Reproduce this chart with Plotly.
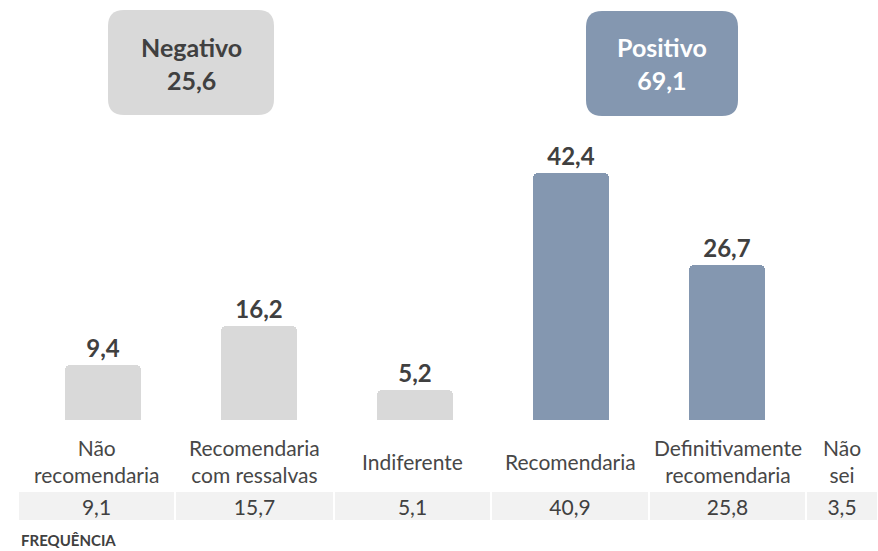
import plotly.graph_objects as go

# ---------------- data ----------------
categories = ["Não<br>recomendaria", "Recomendaria<br>com ressalvas", "Indiferente",
              "Recomendaria", "Definitivamente<br>recomendaria", "Não<br>sei"]
bar_values = [9.4, 16.2, 5.2, 42.4, 26.7]          # first five categories
bar_group = ["neg", "neg", "neg", "pos", "pos"]
frequency = [9.1, 15.7, 5.1, 40.9, 25.8, 3.5]
negative_total = 25.6
positive_total = 69.1
neg_label = "Negativo"
pos_label = "Positivo"
freq_title = "FREQUÊNCIA"

# ---------------- style ----------------
W, H = 878, 551
FONT = "Lato"
DARK = "#404040"
GREY_BAR = "#D9D9D9"
BLUE_BAR = "#8497B0"
CELL_FILL = "#F2F2F2"


def fmt(v):
    return f"{v:.1f}".replace(".", ",")


def px(x):
    return x / W


def py(y):
    return 1 - y / H


def rounded_rect(x0, y0, x1, y1, r):
    pts = [
        ("M", px(x0 + r), py(y0)),
        ("L", px(x1 - r), py(y0)),
        ("Q", px(x1), py(y0), px(x1), py(y0 + r)),
        ("L", px(x1), py(y1 - r)),
        ("Q", px(x1), py(y1), px(x1 - r), py(y1)),
        ("L", px(x0 + r), py(y1)),
        ("Q", px(x0), py(y1), px(x0), py(y1 - r)),
        ("L", px(x0), py(y0 + r)),
        ("Q", px(x0), py(y0), px(x0 + r), py(y0)),
    ]
    s = ""
    for p in pts:
        cmd = p[0]
        coords = p[1:]
        pairs = [f"{coords[i]:.5f},{coords[i+1]:.5f}" for i in range(0, len(coords), 2)]
        s += cmd + " ".join(pairs) + " "
    return s + "Z"


colors = [GREY_BAR if g == "neg" else BLUE_BAR for g in bar_group]

fig = go.Figure()
fig.add_trace(go.Bar(
    x=list(range(len(bar_values))),
    y=bar_values,
    width=0.487,
    marker=dict(color=colors, cornerradius=5, line=dict(width=0)),
    text=[fmt(v) for v in bar_values],
    textposition="outside",
    textfont=dict(family=FONT, size=24, color=DARK, weight="bold"),
    constraintext="none",
    cliponaxis=False,
    hoverinfo="skip",
    showlegend=False,
))

# frequency table row
col_widths = [157, 159, 157, 158, 157, 72]
table_x0 = 18
fig.add_trace(go.Table(
    domain=dict(x=[px(table_x0), 1.0], y=[py(521), py(491)]),
    columnwidth=col_widths,
    header=dict(
        values=[fmt(v) for v in frequency],
        fill_color=CELL_FILL,
        line=dict(color="white", width=2),
        align="center",
        height=30,
        font=dict(family=FONT, size=21, color=DARK),
    ),
    cells=dict(values=[[] for _ in frequency], height=0),
))

# category labels centered over table columns
annotations = []
edge = table_x0
for lab, w in zip(categories, col_widths):
    cx = edge + w / 2
    edge += w
    annotations.append(dict(
        x=px(cx), y=py(461), xref="paper", yref="paper",
        text=lab, showarrow=False, xanchor="center", yanchor="middle",
        font=dict(family=FONT, size=21, color="#474747"),
    ))

annotations.append(dict(
    x=px(19), y=py(540), xref="paper", yref="paper",
    text=f"<b>{freq_title}</b>", showarrow=False, xanchor="left", yanchor="middle",
    font=dict(family=FONT, size=15, color=DARK),
))

# summary boxes
shapes = [
    dict(type="path", xref="paper", yref="paper",
         path=rounded_rect(108, 10, 274, 115, 16),
         fillcolor=GREY_BAR, line=dict(width=0), layer="below"),
    dict(type="path", xref="paper", yref="paper",
         path=rounded_rect(586, 11, 738, 116, 16),
         fillcolor=BLUE_BAR, line=dict(width=0), layer="below"),
]
annotations.append(dict(
    x=px(191), y=py(63), xref="paper", yref="paper",
    text=f"<b>{neg_label}</b><br><b>{fmt(negative_total)}</b>", showarrow=False,
    xanchor="center", yanchor="middle",
    font=dict(family=FONT, size=25, color=DARK),
))
annotations.append(dict(
    x=px(662), y=py(63), xref="paper", yref="paper",
    text=f"<b>{pos_label}</b><br><b>{fmt(positive_total)}</b>", showarrow=False,
    xanchor="center", yanchor="middle",
    font=dict(family=FONT, size=25, color="white"),
))

base_px = 420
k = 5.82  # px per unit
fig.update_layout(
    width=W, height=H,
    margin=dict(l=0, r=0, t=0, b=0),
    paper_bgcolor="white", plot_bgcolor="white",
    xaxis=dict(range=[-103 / 156, (W - 103) / 156], visible=False, fixedrange=True),
    yaxis=dict(range=[0, base_px / k], domain=[py(base_px), 1], visible=False, fixedrange=True),
    shapes=shapes,
    annotations=annotations,
    bargap=0,
)

fig.write_html(
    "out.html",
    config={"displayModeBar": False},
    post_script="document.body.style.margin='0';document.body.style.padding='0';",
)
